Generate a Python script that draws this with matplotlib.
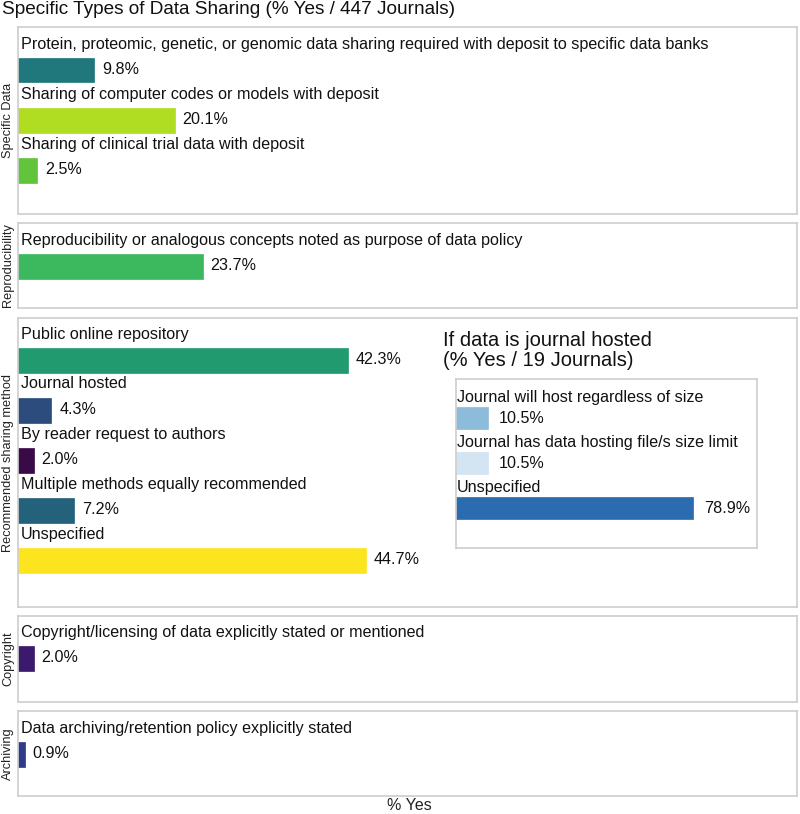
import matplotlib
matplotlib.use("Agg")
import matplotlib.pyplot as plt

plt.rcParams['font.family'] = ['Liberation Sans', 'DejaVu Sans']

# ---- data ----
panel_names = ["Specific Data", "Reproducibility", "Recommended sharing method", "Copyright", "Archiving"]

specific_labels = ["Protein, proteomic, genetic, or genomic data sharing required with deposit to specific data banks",
                   "Sharing of computer codes or models with deposit",
                   "Sharing of clinical trial data with deposit"]
specific_values = [9.8, 20.1, 2.5]
specific_colors = ["#20787c", "#b0dc22", "#62c43d"]

repro_labels = ["Reproducibility or analogous concepts noted as purpose of data policy"]
repro_values = [23.7]
repro_colors = ["#3cb95f"]

method_labels = ["Public online repository", "Journal hosted", "By reader request to authors",
                 "Multiple methods equally recommended", "Unspecified"]
method_values = [42.3, 4.3, 2.0, 7.2, 44.7]
method_colors = ["#229a70", "#2b4c7c", "#3a0a48", "#23627a", "#fce51f"]

copyright_labels = ["Copyright/licensing of data explicitly stated or mentioned"]
copyright_values = [2.0]
copyright_colors = ["#3b1a6e"]

archiving_labels = ["Data archiving/retention policy explicitly stated"]
archiving_values = [0.9]
archiving_colors = ["#2f3a88"]

hosted_labels = ["Journal will host regardless of size", "Journal has data hosting file/s size limit", "Unspecified"]
hosted_values = [10.5, 10.5, 78.9]
hosted_colors = ["#8dbcdb", "#d3e4f3", "#2b6cb0"]

title = "Specific Types of Data Sharing (% Yes / 447 Journals)"
inset_title = "If data is journal hosted\n(% Yes / 19 Journals)"
xlabel = "% Yes"

# ---- layout ----
W, H = 800, 814
fig = plt.figure(figsize=(W / 100, H / 100), dpi=100)


def rect(x0, y0, x1, y1):
    return [x0 / W, 1 - y1 / H, (x1 - x0) / W, (y1 - y0) / H]


EDGE = "#cdcdcd"
FS = 11.6


def style(ax):
    ax.set_xticks([])
    ax.set_yticks([])
    for s in ax.spines.values():
        s.set_color(EDGE)
        s.set_linewidth(1.2)


def panel(box, labels, values, colors, name, unit=50, xmax=100, lab_off=0.36, bar_off=0.86,
          val_pad=1.0, fs=FS):
    x0, y0, x1, y1 = box
    ax = fig.add_axes(rect(*box))
    style(ax)
    ymax = (y1 - y0) / unit
    ax.set_xlim(0, xmax)
    ax.set_ylim(ymax, 0)
    ypos = [i + bar_off for i in range(len(values))]
    ax.barh(ypos, values, height=0.5, left=0, color=colors, edgecolor=colors, linewidth=0.5)
    for i, (lab, v) in enumerate(zip(labels, values)):
        ax.text(xmax * 0.004, i + lab_off, lab, va="center", ha="left", fontsize=fs, color="#111111")
        ax.text(v + val_pad, i + bar_off, f"{v:.1f}%", va="center", ha="left", fontsize=fs, color="#111111")
    if name:
        fig.text(8 / W, 1 - ((y0 + y1) / 2) / H, name, rotation=90, va="center", ha="center",
                 fontsize=9.2, color="#222222")
    return ax


panel((18, 27, 797, 214), specific_labels, specific_values, specific_colors, panel_names[0])
panel((18, 223, 797, 308), repro_labels, repro_values, repro_colors, panel_names[1])
panel((18, 318, 797, 607), method_labels, method_values, method_colors, panel_names[2], lab_off=0.32, bar_off=0.84)
panel((18, 616, 797, 702), copyright_labels, copyright_values, copyright_colors, panel_names[3], lab_off=0.34, bar_off=0.84)
panel((18, 711, 797, 796), archiving_labels, archiving_values, archiving_colors, panel_names[4])

# inset
panel((456, 379, 757, 548), hosted_labels, hosted_values, hosted_colors, None, unit=45,
      lab_off=0.4, bar_off=0.87, val_pad=3.6)
fig.text(443 / W, 1 - 331 / H, inset_title, va="top", ha="left", fontsize=14.5, color="#111111",
         linespacing=1.05)

fig.text(2 / W, 1 - 10 / H, title, va="center", ha="left", fontsize=13.7, color="#111111")
fig.text(409 / W, 1 - 805 / H, xlabel, va="center", ha="center", fontsize=11.5, color="#222222")

fig.savefig("out.png", dpi=100)
